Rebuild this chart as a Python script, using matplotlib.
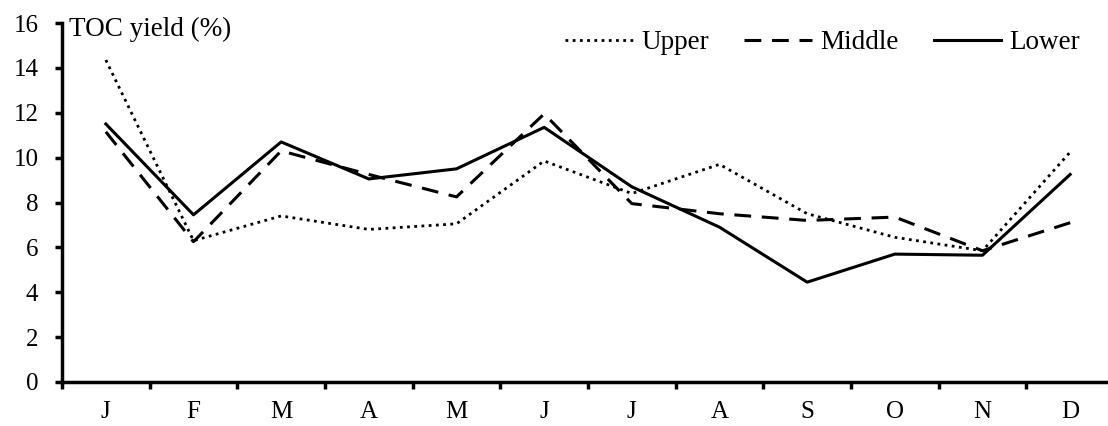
import numpy as np
import matplotlib
matplotlib.use("Agg")
from matplotlib import pyplot as plt

plt.rcParams['font.family'] = ['Liberation Serif', 'DejaVu Serif']

# data
months = ['J', 'F', 'M', 'A', 'M', 'J', 'J', 'A', 'S', 'O', 'N', 'D']
upper = [14.35, 6.3, 7.4, 6.8, 7.05, 9.85, 8.4, 9.7, 7.5, 6.45, 5.85, 10.25]
middle = [11.15, 6.25, 10.3, 9.25, 8.25, 11.95, 7.95, 7.5, 7.2, 7.35, 5.85, 7.1]
lower = [11.5, 7.45, 10.7, 9.05, 9.5, 11.35, 8.7, 6.9, 4.45, 5.7, 5.65, 9.25]

x = np.arange(len(months)) + 0.5

fig = plt.figure(figsize=(11.08, 4.26), dpi=100)
ax = fig.add_axes([62 / 1108, 44 / 426, 1052 / 1108, 359 / 426])

ax.plot(x, upper, color='black', lw=2.0, ls=(0, (1, 1.6)), label='Upper')
ax.plot(x, middle, color='black', lw=2.2, ls=(0, (5.5, 3.5)), label='Middle')
ax.plot(x, lower, color='black', lw=2.2, ls='-', label='Lower')

ax.set_xlim(0, 12)
ax.set_ylim(0, 16)
ax.set_yticks(np.arange(0, 17, 2))
ax.set_xticks(np.arange(0, 13))
ax.set_xticklabels([])
ax.set_xticks(x, minor=True)
ax.set_xticklabels(months, minor=True)

for s in ['top', 'right']:
    ax.spines[s].set_visible(False)
for s in ['left', 'bottom']:
    ax.spines[s].set_linewidth(2.5)

ax.tick_params(axis='x', which='major', direction='out', length=5, width=2.5)
ax.tick_params(axis='x', which='minor', length=0, pad=14, labelsize=18)
ax.tick_params(axis='y', direction='out', length=5, width=2.5, pad=12, labelsize=18)

ax.text(0.08, 15.4, 'TOC yield (%)', fontsize=19.5, va='baseline', ha='left')

ax.legend(loc='upper right', bbox_to_anchor=(1080 / 1108, 1 - 30 / 426),
          bbox_transform=fig.transFigure, ncol=3, frameon=False,
          fontsize=19.5, handlelength=2.5, handletextpad=0.3,
          columnspacing=1.3, borderpad=0, borderaxespad=0)

fig.savefig('out.png', dpi=100)
